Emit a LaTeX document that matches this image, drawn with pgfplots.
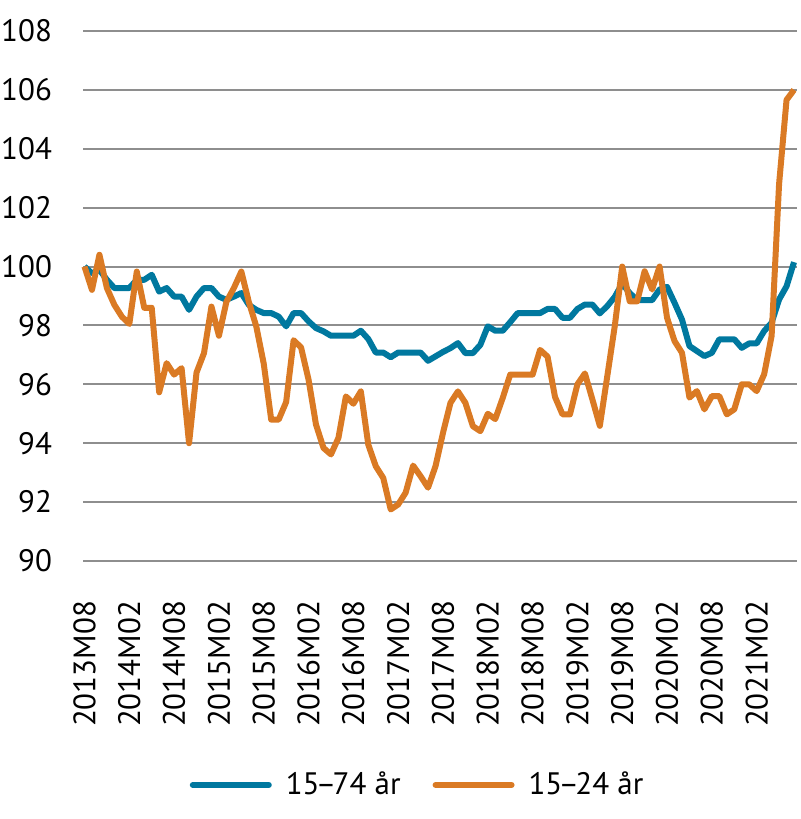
\documentclass[border=0pt]{standalone}
\usepackage{fontspec}
\setmainfont{PT Sans}
\usepackage{pgfplots}
\pgfplotsset{compat=1.18}
\usepackage{pgfplotstable}

\definecolor{serieblue}{HTML}{00789F}
\definecolor{serieorange}{HTML}{DA7A24}
\definecolor{gridgray}{HTML}{8E8E8E}

% month index (0 = 2013M08), 15-74 aar, 15-24 aar
\pgfplotstableread{
m  a      b
0  100.00 100.00
1  99.77  99.21
2  99.89  100.40
3  99.55  99.27
4  99.27  98.70
5  99.27  98.30
6  99.27  98.05
7  99.55  99.83
8  99.55  98.60
9  99.72  98.60
10 99.15  95.73
11 99.27  96.72
12 98.98  96.33
13 98.98  96.55
14 98.53  94.00
15 98.98  96.40
16 99.27  97.06
17 99.27  98.64
18 98.98  97.65
19 98.87  98.80
20 98.98  99.27
21 99.10  99.83
22 98.70  98.80
23 98.53  97.97
24 98.42  96.70
25 98.42  94.80
26 98.30  94.80
27 97.97  95.40
28 98.42  97.50
29 98.42  97.25
30 98.14  96.16
31 97.91  94.63
32 97.80  93.84
33 97.65  93.62
34 97.65  94.18
35 97.65  95.59
36 97.65  95.34
37 97.82  95.76
38 97.54  93.95
39 97.08  93.22
40 97.08  92.82
41 96.92  91.75
42 97.08  91.92
43 97.08  92.32
44 97.08  93.24
45 97.08  92.88
46 96.80  92.49
47 96.95  93.22
48 97.10  94.35
49 97.23  95.37
50 97.40  95.76
51 97.06  95.37
52 97.06  94.58
53 97.34  94.41
54 97.97  95.00
55 97.82  94.82
56 97.82  95.54
57 98.11  96.33
58 98.42  96.33
59 98.42  96.33
60 98.42  96.33
61 98.42  97.17
62 98.56  96.94
63 98.56  95.57
64 98.26  94.98
65 98.26  94.98
66 98.56  96.00
67 98.71  96.37
68 98.71  95.49
69 98.41  94.59
70 98.66  96.28
71 98.97  97.98
72 99.42  100.00
73 99.10  98.82
74 98.86  98.82
75 98.86  99.84
76 98.86  99.22
77 99.22  100.00
78 99.31  98.26
79 98.77  97.47
80 98.20  97.07
81 97.30  95.55
82 97.13  95.77
83 96.96  95.15
84 97.07  95.60
85 97.53  95.60
86 97.53  94.98
87 97.53  95.15
88 97.24  96.00
89 97.39  96.00
90 97.39  95.77
91 97.81  96.34
92 98.09  97.64
93 98.88  102.80
94 99.33  105.66
95 100.15 106.00
}\datatable

\newcommand{\dash}{\kern-0.12em–\kern-0.12em}

\begin{document}
\begin{tikzpicture}
\useasboundingbox (0,0) rectangle (400pt,409.5pt);
\begin{axis}[
  at={(41.5pt,129pt)}, anchor=south west,
  scale only axis, width=357pt, height=265pt,
  xmin=-0.2, xmax=95.4, ymin=90, ymax=108,
  axis line style={draw=none},
  ytick={90,92,...,108},
  xtick={0,6,...,90},
  xticklabels={2013M08,2014M02,2014M08,2015M02,2015M08,2016M02,2016M08,2017M02,2017M08,2018M02,2018M08,2019M02,2019M08,2020M02,2020M08,2021M02},
  ymajorgrids, major grid style={gridgray, line width=1pt},
  major tick length=0pt, tick style={draw=none},
  clip=false,
  tick label style={font=\fontsize{15.5}{18}\selectfont, text=black},
  /pgf/number format/assume math mode=true,
  yticklabel style={anchor=east, xshift=-12pt},
  xticklabel style={rotate=90, anchor=east, xshift=-16.5pt},
  legend columns=2,
  legend style={draw=none, fill=none, at={(0.47,-0.4226)}, anchor=center,
    font=\fontsize{15.5}{18}\selectfont,
    /tikz/every odd column/.append style={column sep=5pt},
    /tikz/every even column/.append style={column sep=14pt}},
  legend image code/.code={\draw[#1, line cap=round] (0pt,0pt) -- (38pt,0pt);},
]
\addplot[serieblue, line width=3pt, line join=round] table[x=m, y=a] {\datatable};
\addlegendentry{15\dash 74 år}
\addplot[serieorange, line width=3pt, line join=round] table[x=m, y=b] {\datatable};
\addlegendentry{15\dash 24 år}
\end{axis}
\end{tikzpicture}
\end{document}
